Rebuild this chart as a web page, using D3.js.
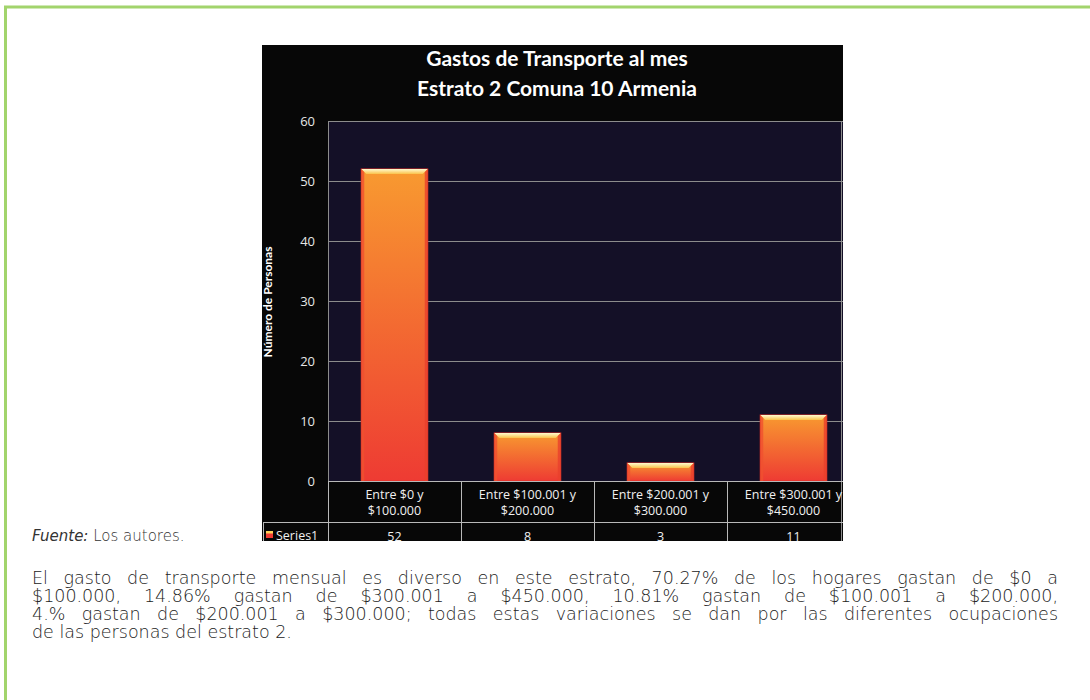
<!DOCTYPE html>
<html lang="es">
<head>
<meta charset="utf-8">
<title>Gastos de Transporte al mes</title>
<script src="https://d3js.org/d3.v7.min.js"></script>
<style>
  body { margin: 0; background: #fff; }
  #pagina { position: relative; width: 1090px; height: 700px; overflow: hidden; }
  #pagina svg { position: absolute; left: 0; top: 0; }
  .fuente { position: absolute; left: 32px; top: 527px; font-family: "DejaVu Sans", sans-serif; font-weight: 200; font-size: 15px; color: #333; }
  .fuente i { font-weight: 200; }
  .texto { position: absolute; left: 32px; top: 569px; width: 1026px; font-family: "DejaVu Sans", sans-serif; font-weight: 200; font-size: 17.5px; line-height: 18px; color: #222; }
  .texto div { text-align: justify; text-align-last: justify; white-space: nowrap; height: 18px; }
  .texto div.ultima { text-align-last: left; }
</style>
</head>
<body>
<div id="pagina">
  <div class="fuente"><i>Fuente:</i> Los autores.</div>
  <div class="texto" id="texto"></div>
</div>

<script>
// datos del grafico
var titulo = ["Gastos de Transporte al mes", "Estrato 2 Comuna 10 Armenia"];
var categorias = ["Entre $0 y|$100.000", "Entre $100.001 y|$200.000", "Entre $200.001 y|$300.000", "Entre $300.001 y|$450.000"];
var valores = [52, 8, 3, 11];
var ticksY = [0, 10, 20, 30, 40, 50, 60];
var nombreSerie = "Series1";
var tituloEjeY = "Número de Personas";
var parrafo = [
  "El gasto de transporte mensual es diverso en este estrato, 70.27% de los hogares  gastan de $0 a",
  "$100.000, 14.86% gastan de $300.001 a $450.000, 10.81% gastan de $100.001 a $200.000,",
  "4.%  gastan de $200.001 a $300.000; todas estas variaciones se dan por las diferentes ocupaciones",
  "de las personas del estrato 2."
];

var W = 1090, H = 700;
// caja del grafico (recortada a la derecha como en la imagen)
var caja = {x: 262, y: 45, w: 581, h: 496};
var plot = {left: 328, right: 860, top: 121, bottom: 481};

var svg = d3.select("#pagina").insert("svg", ":first-child")
  .attr("width", W).attr("height", H);

// borde verde
svg.append("line").attr("x1", 4).attr("x2", W).attr("y1", 7).attr("y2", 7)
  .attr("stroke", "#a2d46c").attr("stroke-width", 3);
svg.append("line").attr("x1", 5.5).attr("x2", 5.5).attr("y1", 6).attr("y2", H)
  .attr("stroke", "#a2d46c").attr("stroke-width", 3);

var defs = svg.append("defs");
defs.append("clipPath").attr("id", "recorte").append("rect")
  .attr("x", caja.x).attr("y", caja.y).attr("width", caja.w).attr("height", caja.h);

var grad = defs.append("linearGradient").attr("id", "gradBarra")
  .attr("x1", 0).attr("y1", 0).attr("x2", 0).attr("y2", 1);
grad.append("stop").attr("offset", "0%").attr("stop-color", "#f89a30");
grad.append("stop").attr("offset", "100%").attr("stop-color", "#ee3b33");

var gradTope = defs.append("linearGradient").attr("id", "gradTope")
  .attr("x1", 0).attr("y1", 0).attr("x2", 0).attr("y2", 1);
gradTope.append("stop").attr("offset", "0%").attr("stop-color", "#fffbd0");
gradTope.append("stop").attr("offset", "100%").attr("stop-color", "#fbc24a");

var g = svg.append("g").attr("clip-path", "url(#recorte)");

g.append("rect").attr("x", caja.x).attr("y", caja.y).attr("width", caja.w).attr("height", caja.h)
  .attr("fill", "#070707");
g.append("rect").attr("x", plot.left).attr("y", plot.top)
  .attr("width", plot.right - plot.left).attr("height", plot.bottom - plot.top)
  .attr("fill", "#141027");

var x = d3.scaleBand().domain(categorias).range([plot.left, plot.right])
  .paddingInner(0.5).paddingOuter(0.25);
var y = d3.scaleLinear().domain([0, 60]).range([plot.bottom, plot.top]);

// lineas de division
g.append("g").attr("transform", "translate(" + plot.left + ",0)")
  .call(d3.axisLeft(y).tickValues(ticksY.slice(1)).tickSize(-(plot.right - plot.left)).tickFormat(""))
  .call(function(s) {
    s.select(".domain").remove();
    s.selectAll("line").attr("stroke", "#8c8c8c");
  });

// borde izquierdo y derecho del area
g.append("line").attr("x1", plot.left + 0.5).attr("x2", plot.left + 0.5)
  .attr("y1", plot.top).attr("y2", plot.bottom).attr("stroke", "#8c8c8c");
g.append("line").attr("x1", caja.x + caja.w - 1.5).attr("x2", caja.x + caja.w - 1.5)
  .attr("y1", plot.top).attr("y2", caja.y + caja.h).attr("stroke", "#8c8c8c");

// etiquetas del eje Y
g.append("g").attr("transform", "translate(" + plot.left + ",0)")
  .call(d3.axisLeft(y).tickValues(ticksY).tickSize(0).tickPadding(13))
  .call(function(s) {
    s.select(".domain").remove();
    s.selectAll("text").attr("fill", "#e6e6e6")
      .style("font-family", "'Open Sans', Lato, sans-serif").style("font-size", "13px");
  });

// barras con bisel
var b = 5;
var barras = g.selectAll(".barra").data(valores).enter().append("g").attr("class", "barra");
barras.append("rect")
  .attr("x", function(d, i) { return x(categorias[i]); })
  .attr("y", function(d) { return y(d); })
  .attr("width", x.bandwidth())
  .attr("height", function(d) { return y(0) - y(d); })
  .attr("fill", "url(#gradBarra)")
  .attr("stroke", "#e2312a").attr("stroke-width", 1);
barras.append("polygon")
  .attr("points", function(d, i) {
    var x0 = x(categorias[i]), x1 = x0 + x.bandwidth(), y0 = y(d);
    return [[x0, y0], [x1, y0], [x1 - b, y0 + b], [x0 + b, y0 + b]].join(" ");
  })
  .attr("fill", "url(#gradTope)");
barras.append("polygon")
  .attr("points", function(d, i) {
    var x0 = x(categorias[i]), y0 = y(d), y1 = y(0);
    return [[x0, y0], [x0 + 3, y0 + 3], [x0 + 3, y1], [x0, y1]].join(" ");
  })
  .attr("fill", "#f0502f").attr("opacity", 0.8);
barras.append("polygon")
  .attr("points", function(d, i) {
    var x1 = x(categorias[i]) + x.bandwidth(), y0 = y(d), y1 = y(0);
    return [[x1, y0], [x1 - 3, y0 + 3], [x1 - 3, y1], [x1, y1]].join(" ");
  })
  .attr("fill", "#e8402c").attr("opacity", 0.8);

// tabla de datos
var paso = x.step();
var filaSep = 522;
var colorTabla = "#b8b8b8";
g.append("line").attr("x1", plot.left).attr("x2", plot.right)
  .attr("y1", plot.bottom + 0.5).attr("y2", plot.bottom + 0.5).attr("stroke", colorTabla);
g.append("line").attr("x1", caja.x + 1).attr("x2", plot.right)
  .attr("y1", filaSep + 0.5).attr("y2", filaSep + 0.5).attr("stroke", colorTabla);
g.append("line").attr("x1", caja.x + 1.5).attr("x2", caja.x + 1.5)
  .attr("y1", filaSep).attr("y2", caja.y + caja.h).attr("stroke", colorTabla);
g.selectAll(".sepCol").data(categorias).enter().append("line")
  .attr("x1", function(d) { return Math.round(x(d) - (paso - x.bandwidth()) / 2) + 0.5; })
  .attr("x2", function(d) { return Math.round(x(d) - (paso - x.bandwidth()) / 2) + 0.5; })
  .attr("y1", plot.bottom).attr("y2", caja.y + caja.h)
  .attr("stroke", colorTabla);

var fuenteTabla = "'Open Sans', Lato, sans-serif";
g.selectAll(".cat").data(categorias).enter().append("text")
  .attr("x", function(d) { return x(d) + x.bandwidth() / 2; })
  .attr("text-anchor", "middle")
  .attr("fill", "#f0f0f0")
  .style("font-family", fuenteTabla).style("font-size", "12.5px")
  .each(function(d) {
    var t = d3.select(this);
    d.split("|").forEach(function(linea, k) {
      t.append("tspan").attr("x", x(d) + x.bandwidth() / 2).attr("y", 499 + k * 16).text(linea);
    });
  });

g.selectAll(".val").data(valores).enter().append("text")
  .attr("x", function(d, i) { return x(categorias[i]) + x.bandwidth() / 2; })
  .attr("y", 541)
  .attr("text-anchor", "middle")
  .attr("fill", "#f0f0f0")
  .style("font-family", fuenteTabla).style("font-size", "12.5px")
  .text(function(d) { return d; });

// leyenda de la serie
g.append("rect").attr("x", 266).attr("y", 531).attr("width", 7).attr("height", 7).attr("fill", "#ee3b33");
g.append("rect").attr("x", 266).attr("y", 531).attr("width", 7).attr("height", 2.5).attr("fill", "#fcd25a");
g.append("text").attr("x", 276).attr("y", 540).attr("fill", "#f0f0f0")
  .style("font-family", fuenteTabla).style("font-size", "12.5px").text(nombreSerie);

// titulo
g.selectAll(".titulo").data(titulo).enter().append("text")
  .attr("x", 557).attr("y", function(d, i) { return 66 + i * 30; })
  .attr("text-anchor", "middle").attr("fill", "#ffffff")
  .style("font-family", "Lato, 'Open Sans', sans-serif").style("font-weight", "bold").style("font-size", "21px")
  .text(function(d) { return d; });

// titulo eje Y
g.append("text")
  .attr("transform", "translate(272,302) rotate(-90)")
  .attr("text-anchor", "middle").attr("fill", "#ffffff")
  .style("font-family", "Lato, 'Open Sans', sans-serif").style("font-weight", "bold").style("font-size", "12px")
  .text(tituloEjeY);

// texto de abajo
d3.select("#texto").selectAll("div").data(parrafo).enter().append("div")
  .attr("class", function(d, i) { return i === parrafo.length - 1 ? "ultima" : null; })
  .text(function(d) { return d; });
</script>
</body>
</html>
